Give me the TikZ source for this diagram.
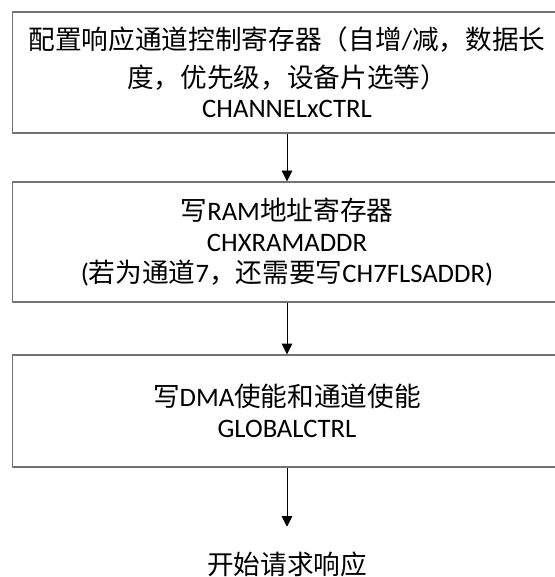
\documentclass[tikz,border=0pt]{standalone}
\usepackage{fontspec}
\setmainfont{Carlito}
\newfontfamily\cjk{Noto Sans CJK SC}
\usetikzlibrary{arrows.meta}
\tikzset{
  stepbox/.style={draw=black!55, line width=1.1pt, minimum width=412pt, align=center, font=\fontsize{20}{23}\selectfont},
  flow/.style={-{Triangle[length=8pt,width=8pt]}, line width=0.6pt}
}
\begin{document}
\begin{tikzpicture}[x=0.75pt,y=-0.75pt, line join=round]
            \useasboundingbox (0,0) rectangle (554,577);
            \node[stepbox, minimum height=91pt] (cfg) at (287,72.5)
                {{\cjk 配置响应通道控制寄存器（自增}/{\cjk 减，数据长}\\[5pt]
                 {\cjk 度，优先级，设备片选等）}\\
                 CHANNELxCTRL};
            \node[stepbox, minimum height=90pt] (ramaddr) at (287,242)
                {{\cjk 写}RAM{\cjk 地址寄存器}\\
                 CHXRAMADDR\\
                 ({\cjk 若为通道}7{\cjk ，还需要写}CH7FLSADDR)};
            \node[stepbox, minimum height=84pt] (dmaen) at (287,411)
                {{\cjk 写}DMA{\cjk 使能和通道使能}\\
                 GLOBALCTRL};
            \node[font=\fontsize{20}{23}\selectfont] (start) at (287,564) {\cjk 开始请求响应};
            \draw[flow] (cfg.south) -- (ramaddr.north);
            \draw[flow] (ramaddr.south) -- (dmaen.north);
            \draw[flow] (dmaen.south) -- ++(0,59) coordinate (tip);
        \end{tikzpicture}
\end{document}
